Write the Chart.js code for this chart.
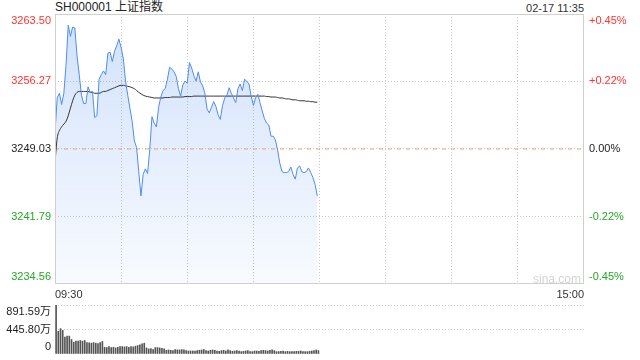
<!DOCTYPE html>
<html>
<head>
<meta charset="utf-8">
<script src="https://cdn.jsdelivr.net/npm/chart.js@4.4.1/dist/chart.umd.min.js"></script>
<style>
  body { margin: 0; background: #fff; font-family: "Liberation Sans", Arial, "Noto Sans CJK SC", sans-serif; }
  #cadre { position: relative; width: 640px; height: 360px; overflow: hidden; }
  .texte { position: absolute; white-space: nowrap; line-height: 14px; }
  canvas { position: absolute; left: 0; }
</style>
</head>
<body>
<div id="cadre">
  <div class="texte" id="titre" style="left:55px; top:0px; font-size:12px; color:#222;"></div>
  <div class="texte" id="heure" style="right:56px; top:1px; font-size:11px; color:#333;"></div>
  <canvas id="graphique-prix" width="640" height="300" style="top:0"></canvas>
  <canvas id="graphique-volume" width="640" height="62" style="top:298px"></canvas>
  <div class="texte" style="left:533px; top:272px; font-size:12px; color:#d4d4d4;">sina.com</div>
</div>
<script>
// Infos du titre
const nomIndice = "SH000001 上证指数";
const dateHeure = "02-17 11:35";
const heures = ["09:30", "15:00"];

// Clôture de la veille et graduations
const prixBase = 3249.03;
const prixTicks = [3234.56, 3241.79, 3249.03, 3256.27, 3263.50];
const volTicks = [0, 445.80, 891.59];
const volEtiquettes = ["0", "445.80万", "891.59万"];

// Cours minute par minute (matinée)
const prix = [
  3250.8, 3254.5, 3255.0, 3253.8, 3255.0, 3258.0, 3262.3, 3261.1, 3262.1, 3262.0,
  3259.0, 3257.0, 3254.8, 3253.9, 3253.9, 3255.7, 3255.1, 3255.2, 3252.4, 3252.6,
  3256.5, 3257.0, 3257.4, 3257.0, 3259.3, 3259.4, 3258.4, 3259.5, 3260.1, 3260.8,
  3259.9, 3258.7, 3256.3, 3254.8, 3253.4, 3252.0, 3249.9, 3249.2, 3246.6, 3244.0,
  3246.3, 3246.9, 3246.4, 3249.0, 3252.5, 3251.8, 3251.4, 3253.5, 3254.6, 3255.3,
  3255.5, 3256.5, 3257.8, 3257.6, 3257.3, 3256.8, 3255.5, 3254.7, 3255.9, 3256.3,
  3256.1, 3258.3, 3257.7, 3256.9, 3256.3, 3257.3, 3256.2, 3255.8, 3255.0, 3253.3,
  3252.9, 3253.5, 3254.1, 3253.6, 3252.7, 3252.2, 3253.7, 3254.5, 3254.8, 3255.6,
  3255.0, 3254.5, 3254.0, 3255.5, 3256.0, 3255.3, 3256.5, 3256.3, 3256.0, 3254.7,
  3253.7, 3254.5, 3254.9, 3254.0, 3253.1, 3252.3, 3251.8, 3251.6, 3250.4, 3250.4,
  3250.0, 3248.9, 3247.5, 3246.6, 3246.5, 3246.5, 3246.6, 3247.1, 3246.3, 3245.8,
  3247.0, 3247.2, 3246.6, 3246.5, 3246.6, 3247.0, 3246.5, 3246.0, 3245.2, 3244.0
];

// Prix moyen
const moyenne = [
  3247.6, 3250.2, 3251.0, 3251.4, 3251.7, 3252.0, 3252.6, 3253.4, 3254.2, 3254.8,
  3255.1, 3255.2, 3255.2, 3255.2, 3255.2, 3255.2, 3255.1, 3255.1, 3255.0, 3255.0,
  3255.0, 3255.1, 3255.2, 3255.2, 3255.3, 3255.4, 3255.5, 3255.6, 3255.7, 3255.8,
  3255.85, 3255.85, 3255.8, 3255.75, 3255.7, 3255.6, 3255.5, 3255.3, 3255.1, 3254.95,
  3254.8, 3254.7, 3254.65, 3254.6, 3254.55, 3254.5, 3254.5, 3254.5, 3254.5, 3254.5,
  3254.55, 3254.55, 3254.55, 3254.6, 3254.6, 3254.6, 3254.6, 3254.6, 3254.6, 3254.65,
  3254.65, 3254.65, 3254.65, 3254.7, 3254.7, 3254.7, 3254.7, 3254.7, 3254.7, 3254.7,
  3254.7, 3254.7, 3254.7, 3254.7, 3254.7, 3254.7, 3254.7, 3254.7, 3254.7, 3254.7,
  3254.7, 3254.7, 3254.7, 3254.7, 3254.7, 3254.7, 3254.7, 3254.7, 3254.7, 3254.7,
  3254.7, 3254.7, 3254.7, 3254.7, 3254.7, 3254.7, 3254.65, 3254.65, 3254.6, 3254.6,
  3254.6, 3254.55, 3254.5, 3254.5, 3254.45, 3254.4, 3254.4, 3254.35, 3254.3, 3254.3,
  3254.25, 3254.2, 3254.2, 3254.2, 3254.15, 3254.15, 3254.1, 3254.1, 3254.05, 3254.05
];

// Volumes (en 万)
const volumes = [
  891.59, 412, 461, 430, 308, 326, 326, 264, 215, 234,
  234, 246, 234, 246, 209, 203, 197, 209, 197, 190,
  209, 228, 123, 117, 135, 117, 123, 111, 123, 135,
  135, 129, 135, 123, 135, 129, 142, 154, 166, 185,
  197, 111, 92, 98, 80, 117, 117, 111, 105, 92,
  68, 74, 68, 62, 80, 74, 74, 80, 74, 62,
  55, 55, 55, 55, 62, 68, 74, 80, 62, 55,
  68, 74, 68, 55, 49, 62, 68, 55, 74, 62,
  49, 55, 62, 55, 43, 49, 55, 62, 43, 43,
  55, 55, 49, 62, 68, 62, 55, 68, 74, 62,
  43, 43, 49, 55, 43, 49, 43, 43, 43, 49,
  49, 55, 43, 43, 43, 49, 55, 62, 74, 62
];

// 240 minutes de séance (une catégorie par minute)
const minutes = [];
for (let i = 0; i < 240; i++) minutes.push(String(i));

document.querySelector("#titre").textContent = nomIndice;
document.querySelector("#heure").textContent = dateHeure;

Chart.defaults.font.family = '"Liberation Sans", Arial, "Noto Sans CJK SC", sans-serif';
Chart.defaults.font.size = 11;
Chart.defaults.animation = false;

// couleur rouge / vert selon la clôture
function couleurPrix(v) {
  if (v > prixBase + 0.001) return "#f33";
  if (v < prixBase - 0.001) return "#22a822";
  return "#222";
}

// étiquette du haut décalée vers le bas, celle du bas vers le haut
function decaler(texte, i, n) {
  if (i === n - 1) return ["", texte];
  if (i === 0) return [texte, ""];
  return texte;
}

function pourcent(v) {
  const p = (v - prixBase) / prixBase * 100;
  if (Math.abs(p) < 0.001) return "0.00%";
  return (p > 0 ? "+" : "") + p.toFixed(2) + "%";
}

// pas de marge en plus pour les étiquettes sur deux lignes
function largeurFixe(largeur) {
  return function (s) {
    s.width = largeur;
    s.paddingTop = 0;
    s.paddingBottom = 0;
  };
}

// Cadre gris autour de la zone du graphique
const pluginCadre = {
  id: "cadre",
  afterDatasetsDraw(chart) {
    const a = chart.chartArea;
    const ctx = chart.ctx;
    ctx.save();
    ctx.strokeStyle = "#cfcfcf";
    ctx.lineWidth = 1;
    ctx.strokeRect(Math.round(a.left) + 0.5, Math.round(a.top) + 0.5,
      Math.round(a.right - a.left) - 1, Math.round(a.bottom - a.top) - 1);
    ctx.restore();
  }
};

new Chart(document.querySelector("#graphique-prix"), {
  type: "line",
  data: {
    datasets: [
      {
        data: prix.map((v, i) => ({ x: i, y: v })),
        borderColor: "#4d8cf0",
        borderWidth: 1,
        pointRadius: 0,
        fill: "start",
        backgroundColor: function (context) {
          const area = context.chart.chartArea;
          if (!area) return "rgba(77,140,240,0.15)";
          const g = context.chart.ctx.createLinearGradient(0, area.top, 0, area.bottom);
          g.addColorStop(0, "rgba(77,140,240,0.26)");
          g.addColorStop(1, "rgba(77,140,240,0.04)");
          return g;
        }
      },
      {
        data: moyenne.map((v, i) => ({ x: i, y: v })),
        borderColor: "#333",
        borderWidth: 1,
        pointRadius: 0,
        cubicInterpolationMode: "monotone"
      },
      {
        data: [{ x: 0, y: prixBase }, { x: 240, y: prixBase }],
        borderColor: "#f0a67a",
        borderWidth: 1,
        borderDash: [4, 5],
        pointRadius: 0
      }
    ]
  },
  options: {
    responsive: false,
    layout: { padding: { top: 14 } },
    plugins: {
      legend: { display: false },
      tooltip: { enabled: false },
      filler: { drawTime: "beforeDatasetsDraw" }
    },
    scales: {
      x: {
        type: "linear",
        min: 0,
        max: 240,
        afterBuildTicks: s => { s.ticks = [0, 30, 60, 90, 120, 150, 180, 210, 240].map(v => ({ value: v })); },
        afterFit: s => { s.height = 16; s.paddingLeft = 0; s.paddingRight = 0; },
        ticks: {
          autoSkip: false,
          maxRotation: 0,
          align: "inner",
          padding: 4,
          color: "#333",
          callback: v => v === 0 ? heures[0] : (v === 240 ? heures[1] : "")
        },
        grid: {
          drawTicks: false,
          color: ctx => (ctx.tick && (ctx.tick.value === 0 || ctx.tick.value === 240)) ? "transparent" : "#c8c8c8"
        },
        border: { display: false, dash: [1, 2] }
      },
      y: {
        position: "left",
        min: prixTicks[0],
        max: prixTicks[prixTicks.length - 1],
        afterBuildTicks: s => { s.ticks = prixTicks.map(v => ({ value: v })); },
        afterFit: largeurFixe(55),
        ticks: {
          autoSkip: false,
          padding: 4,
          color: ctx => couleurPrix(ctx.tick.value),
          callback: (v, i, t) => decaler(v.toFixed(2), i, t.length)
        },
        grid: {
          drawTicks: false,
          color: ctx => (ctx.tick && (ctx.index === 0 || ctx.index === prixTicks.length - 1)) ? "transparent" : "#c8c8c8"
        },
        border: { display: false, dash: [1, 2] }
      },
      yDroite: {
        position: "right",
        min: prixTicks[0],
        max: prixTicks[prixTicks.length - 1],
        afterBuildTicks: s => { s.ticks = prixTicks.map(v => ({ value: v })); },
        afterFit: largeurFixe(56),
        ticks: {
          autoSkip: false,
          padding: 5,
          color: ctx => couleurPrix(ctx.tick.value),
          callback: (v, i, t) => decaler(pourcent(v), i, t.length)
        },
        grid: { display: false, drawTicks: false },
        border: { display: false }
      }
    }
  },
  plugins: [pluginCadre]
});

new Chart(document.querySelector("#graphique-volume"), {
  type: "bar",
  data: {
    labels: minutes,
    datasets: [{
      data: volumes,
      backgroundColor: "#555",
      barThickness: 1
    }]
  },
  options: {
    responsive: false,
    layout: { padding: { top: 7, bottom: 6, right: 56 } },
    plugins: {
      legend: { display: false },
      tooltip: { enabled: false }
    },
    scales: {
      x: {
        offset: true,
        display: false
      },
      y: {
        min: 0,
        max: volTicks[volTicks.length - 1],
        afterBuildTicks: s => { s.ticks = volTicks.map(v => ({ value: v })); },
        afterFit: largeurFixe(55),
        ticks: {
          autoSkip: false,
          padding: 4,
          color: "#222",
          callback: (v, i, t) => decaler(volEtiquettes[i], i, t.length)
        },
        grid: {
          drawTicks: false,
          color: ctx => (ctx.tick && ctx.tick.value === 0) ? "transparent" : "#c8c8c8"
        },
        border: { display: false, dash: [1, 2] }
      }
    }
  }
});
</script>
</body>
</html>
